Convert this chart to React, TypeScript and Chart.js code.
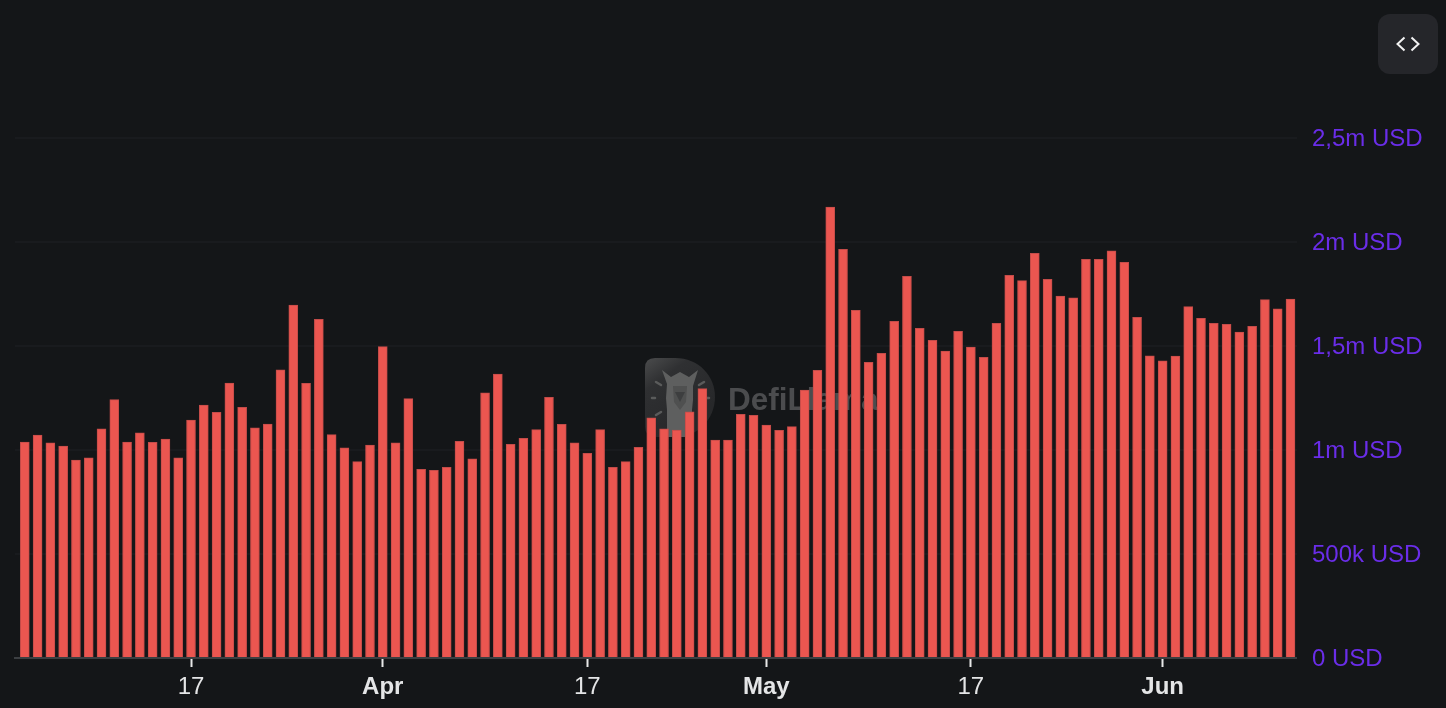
import React, { useEffect, useRef } from "react";
import { Chart, registerables } from "chart.js";

Chart.register(...registerables);

// Days since 4 March (index 0 = 4 March, index 99 = 11 June); values in USD thousands.
const dailyValuesK = [
  1038, 1072, 1034, 1019, 952, 962, 1102, 1242, 1038, 1082,
  1037, 1053, 962, 1144, 1216, 1181, 1322, 1205, 1106, 1125,
  1385, 1697, 1321, 1628, 1074, 1011, 944, 1024, 1497, 1035,
  1247, 907, 902, 917, 1042, 958, 1275, 1365, 1027, 1056,
  1098, 1253, 1124, 1035, 984, 1098, 917, 944, 1013, 1155,
  1102, 1096, 1183, 1295, 1048, 1048, 1172, 1167, 1120, 1095,
  1112, 1288, 1383, 2168, 1965, 1672, 1422, 1465, 1619, 1835,
  1585, 1527, 1476, 1571, 1495, 1446, 1609, 1840, 1814, 1946,
  1821, 1740, 1731, 1917, 1917, 1958, 1902, 1638, 1453, 1429,
  1452, 1689, 1633, 1609, 1604, 1567, 1595, 1723, 1679, 1726,
];
const xTickDays = [13, 28, 44, 58, 74, 89];
const xTickLabels = ["17", "Apr", "17", "May", "17", "Jun"];
const xTickBold = [false, true, false, true, false, true];
const yTickValues = [0, 500000, 1000000, 1500000, 2000000, 2500000];
const yTickLabels = ["0 USD", "500k USD", "1m USD", "1,5m USD", "2m USD", "2,5m USD"];

const BG = "#141618";
const FONT = '"Liberation Sans", Arial, sans-serif';

const watermark = {
  id: "watermark",
  beforeDatasetsDraw(chart: any) {
    const c = chart.ctx as CanvasRenderingContext2D;
    c.save();
    // D-shaped badge
    const g = c.createLinearGradient(645, 358, 690, 420);
    g.addColorStop(0, "#4b4c4d");
    g.addColorStop(0.35, "#2f3032");
    g.addColorStop(1, "#27282a");
    c.fillStyle = g;
    c.beginPath();
    c.moveTo(655, 358);
    c.lineTo(675, 358);
    c.bezierCurveTo(699, 358, 715, 376, 715, 397);
    c.bezierCurveTo(715, 419, 698, 437, 675, 437);
    c.lineTo(655, 437);
    c.quadraticCurveTo(645, 437, 645, 427);
    c.lineTo(645, 368);
    c.quadraticCurveTo(645, 358, 655, 358);
    c.closePath();
    c.fill();
    // llama
    c.fillStyle = "#5e5f5f";
    c.beginPath();
    c.moveTo(662, 370);
    c.lineTo(671, 377);
    c.lineTo(680, 372);
    c.lineTo(689, 377);
    c.lineTo(698, 370);
    c.lineTo(693, 386);
    c.lineTo(693, 400);
    c.lineTo(692, 410);
    c.lineTo(692, 437);
    c.lineTo(667, 437);
    c.lineTo(667, 410);
    c.lineTo(666, 398);
    c.lineTo(667, 384);
    c.closePath();
    c.fill();
    c.fillStyle = "#4f5050";
    c.beginPath();
    c.moveTo(673, 386);
    c.lineTo(687, 386);
    c.lineTo(686, 402);
    c.lineTo(680, 410);
    c.lineTo(674, 402);
    c.closePath();
    c.fill();
    c.fillStyle = "#3d3e3f";
    c.beginPath();
    c.moveTo(675, 392);
    c.lineTo(685, 392);
    c.lineTo(680, 402);
    c.closePath();
    c.fill();
    // rays
    c.strokeStyle = "#5a5b5b";
    c.lineWidth = 2.5;
    c.lineCap = "round";
    const rays = [
      [656, 382, 661, 385],
      [652, 398, 655, 398],
      [656, 415, 661, 412],
      [699, 385, 704, 382],
      [706, 398, 709, 398],
    ];
    rays.forEach(([a, b, d, e]) => {
      c.beginPath();
      c.moveTo(a, b);
      c.lineTo(d, e);
      c.stroke();
    });
    c.fillStyle = "#4b4c4e";
    c.font = `bold 31.5px ${FONT}`;
    c.textAlign = "left";
    c.textBaseline = "middle";
    c.fillText("DefiLlama", 728, 401);
    c.restore();
  },
};

export default function App() {
  const ref = useRef<HTMLCanvasElement>(null);

  useEffect(() => {
    document.body.style.margin = "0";
    document.body.style.background = BG;
    const chart = new Chart(ref.current as HTMLCanvasElement, {
      type: "bar",
      data: {
        datasets: [
          {
            data: dailyValuesK.map((v, i) => ({ x: i, y: v * 1000 })),
            backgroundColor: "#eb5650",
            borderColor: "#c44c49",
            borderWidth: 1,
            barThickness: 9,
          },
        ],
      },
      plugins: [watermark],
      options: {
        animation: false,
        responsive: false,
        events: [],
        layout: { padding: { left: 15, top: 138, right: 0, bottom: 0 } },
        plugins: { legend: { display: false }, tooltip: { enabled: false } },
        scales: {
          x: {
            type: "linear",
            offset: false,
            min: -0.767,
            max: 99.47,
            afterBuildTicks(scale: any) {
              scale.ticks = xTickDays.map((value) => ({ value }));
            },
            afterFit(scale: any) {
              scale.height = 50;
            },
            border: { display: true, color: "#3c3f42", width: 2 },
            grid: {
              offset: false,
              drawOnChartArea: false,
              drawTicks: true,
              tickColor: "#e8e8e8",
              tickLength: 9,
              tickWidth: 2,
            },
            ticks: {
              autoSkip: false,
              maxRotation: 0,
              padding: 6,
              color: "#e4e5e6",
              font: (ctx: any) => {
                const i = xTickDays.indexOf(ctx.tick?.value);
                return { family: FONT, size: 24, weight: xTickBold[i] ? "bold" : "normal" };
              },
              callback: (value: any) => xTickLabels[xTickDays.indexOf(value)] ?? "",
            },
          },
          y: {
            position: "right",
            min: 0,
            max: 2500000,
            afterBuildTicks(scale: any) {
              scale.ticks = yTickValues.map((value) => ({ value }));
            },
            afterFit(scale: any) {
              scale.width = 1446 - 1296.5;
            },
            border: { display: false },
            grid: { color: "#191b1e", lineWidth: 2, drawTicks: false },
            ticks: {
              padding: 15.5,
              labelOffset: 1,
              z: 1,
              color: "#6a2de8",
              font: { family: FONT, size: 24 },
              callback: (value: any) => yTickLabels[yTickValues.indexOf(value)] ?? "",
            },
          },
        },
      },
    } as any);
    return () => chart.destroy();
  }, []);

  return (
    <div style={{ position: "relative", width: 1446, height: 708, background: BG, overflow: "hidden" }}>
      <canvas ref={ref} width={1446} height={708} style={{ display: "block", width: 1446, height: 708 }} />
      <div
        style={{
          position: "absolute",
          left: 1378,
          top: 14,
          width: 60,
          height: 60,
          borderRadius: 12,
          background: "#25262a",
        }}
      >
        <svg width={60} height={60} viewBox="0 0 60 60" style={{ display: "block" }}>
          <path
            d="M26.5 23.5 L19.5 30 L26.5 36.5 M33.5 23.5 L40.5 30 L33.5 36.5"
            fill="none"
            stroke="#f2f2f2"
            strokeWidth={2}
          />
        </svg>
      </div>
    </div>
  );
}
